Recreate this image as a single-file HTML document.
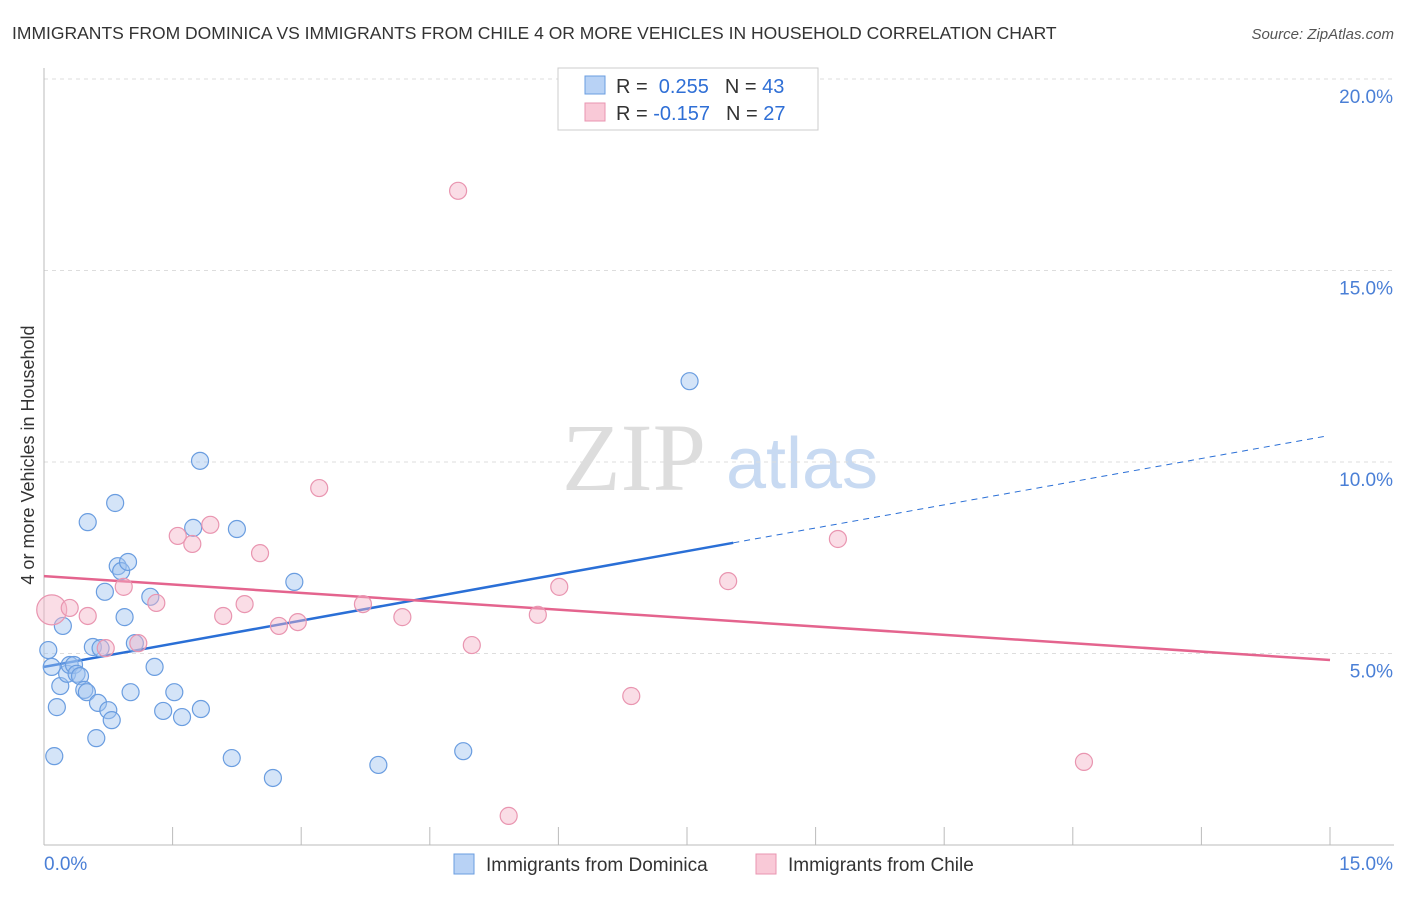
<!DOCTYPE html>
<html><head><meta charset="utf-8"><style>
body{margin:0;background:#fff;font-family:"Liberation Sans",sans-serif;}
svg text{font-family:"Liberation Sans",sans-serif;}
</style></head><body>
<svg id="chart" width="1406" height="892">
<text x="12" y="39" font-size="17.5" fill="#333">IMMIGRANTS FROM DOMINICA VS IMMIGRANTS FROM CHILE 4 OR MORE VEHICLES IN HOUSEHOLD CORRELATION CHART</text>
<text x="1394" y="39" font-size="15" fill="#555" font-style="italic" text-anchor="end">Source: ZipAtlas.com</text>
<g>
<text x="634" y="490" font-size="96" fill="#ddd" text-anchor="middle" font-family="Liberation Serif" style="font-family:'Liberation Serif',serif">ZIP</text>
<text x="802" y="488" font-size="72" fill="#c8daf2" text-anchor="middle">atlas</text>
</g>
<g id="grid"></g>
<g id="axes"></g>
<g id="lines"></g>
<g id="points"></g>
<text transform="translate(34,455) rotate(-90)" font-size="18" fill="#333" text-anchor="middle">4 or more Vehicles in Household</text>
<g>
<rect x="558" y="68" width="260" height="62" fill="#fff" stroke="#ccc"/>
<rect x="585" y="76" width="20" height="18" fill="#b8d2f5" stroke="#6a9de0"/>
<text x="616" y="93" font-size="20" fill="#333">R = <tspan fill="#2f6fd6">&#160;0.255</tspan><tspan dx="16">N = </tspan><tspan fill="#2f6fd6">43</tspan></text>
<rect x="585" y="103" width="20" height="18" fill="#f9c9d7" stroke="#e995b0"/>
<text x="616" y="120" font-size="20" fill="#333">R = <tspan fill="#2f6fd6">-0.157</tspan><tspan dx="16">N = </tspan><tspan fill="#2f6fd6">27</tspan></text>
</g>
<g>
<rect x="454" y="854" width="20" height="20" fill="#b8d2f5" stroke="#6a9de0"/>
<text x="486" y="871" font-size="19" fill="#333">Immigrants from Dominica</text>
<rect x="756" y="854" width="20" height="20" fill="#f9c9d7" stroke="#e995b0"/>
<text x="788" y="871" font-size="19" fill="#333">Immigrants from Chile</text>
</g>
</svg>
<script>
const xTicksPct=[0,15];
const yTicks=[5,10,15,20];
const blueX=[0.05,0.09,0.12,0.15,0.19,0.22,0.27,0.30,0.35,0.38,0.42,0.47,0.50,0.51,0.57,0.61,0.63,0.66,0.71,0.75,0.79,0.83,0.86,0.90,0.94,0.98,1.01,1.06,1.24,1.29,1.39,1.52,1.61,1.74,1.82,1.83,2.19,2.25,2.67,2.92,3.90,4.89,7.53];
const blueY=[5.09,4.65,2.32,3.60,4.15,5.72,4.47,4.70,4.70,4.47,4.41,4.05,3.99,8.43,5.17,2.79,3.71,5.14,6.61,3.52,3.26,8.93,7.28,7.15,5.95,7.39,3.99,5.27,6.48,4.65,3.50,3.99,3.34,8.28,10.03,3.55,2.27,8.25,1.75,6.87,2.09,2.45,12.11];
const pinkX=[0.09,0.30,0.51,0.72,0.93,1.10,1.31,1.56,1.73,1.94,2.09,2.34,2.52,2.74,2.96,3.21,3.72,4.18,4.83,4.99,5.42,5.76,6.01,6.85,7.98,9.26,12.13];
const pinkY=[6.14,6.19,5.98,5.14,6.74,5.27,6.32,8.07,7.86,8.36,5.98,6.29,7.62,5.72,5.82,9.32,6.29,5.95,17.08,5.22,0.76,6.01,6.74,3.89,6.89,7.99,2.17];
const blueTrend=[4.65,0.403];
const pinkTrend=[7.02,-0.146];
const NS='http://www.w3.org/2000/svg';
const X0=44,X1=1330,Y0=845,PXPER=191.5/5;
const sx=v=>X0+(v/15)*(X1-X0);
const sy=v=>Y0-v*PXPER;
function mk(tag,attrs,parent){const e=document.createElementNS(NS,tag);for(const k in attrs)e.setAttribute(k,attrs[k]);parent.appendChild(e);return e;}
const grid=document.getElementById('grid'),axes=document.getElementById('axes'),lines=document.getElementById('lines'),pts=document.getElementById('points');
yTicks.forEach(t=>{
 const l=mk('line',{x1:X0,x2:1394,y1:sy(t),y2:sy(t),stroke:'#ddd','stroke-dasharray':'4,4'},grid);
 
 
 const tx=mk('text',{x:1393,y:sy(t)+24,'font-size':19,fill:'#4a7fd6','text-anchor':'end'},grid);
 tx.textContent=t.toFixed(1)+'%';
 
 
});
mk('line',{x1:X0,x2:X0,y1:68,y2:Y0,stroke:'#bbb'},axes);
mk('line',{x1:X0,x2:1394,y1:Y0,y2:Y0,stroke:'#bbb'},axes);
for(let i=0;i<=10;i++){
 const x=sx(i*1.5);
 const t=mk('line',{x1:x,x2:x,y1:827,y2:Y0,stroke:'#bbb'},axes);
 
 
}
xTicksPct.forEach((v,i)=>{
 const tx=mk('text',{x:i?1393:44,y:870,'font-size':19,fill:'#4a7fd6','text-anchor':i?'end':'start'},axes);
 tx.textContent=v.toFixed(1)+'%';
 
 
});
function addPts(xs,ys,fill,stroke,name){
 xs.forEach((v,i)=>{
  const big=(name==='chile-point'&&i===0);
  const c=mk('circle',{cx:sx(v),cy:sy(ys[i]),r:big?15:8.5,fill:fill,stroke:stroke,'stroke-width':1.2},pts);
  
  
 });
}
addPts(blueX,blueY,'rgba(160,196,240,0.45)','#6a9de0','dominica-point');
addPts(pinkX,pinkY,'rgba(245,180,200,0.45)','#e995b0','chile-point');
const bxEnd=8.04,bxDash=14.94;
const b1=mk('line',{x1:sx(0),y1:sy(blueTrend[0]),x2:sx(bxEnd),y2:sy(blueTrend[0]+blueTrend[1]*bxEnd),stroke:'#2a6fd6','stroke-width':2.5},lines);


const b2=mk('line',{x1:sx(bxEnd),y1:sy(blueTrend[0]+blueTrend[1]*bxEnd),x2:sx(bxDash),y2:sy(blueTrend[0]+blueTrend[1]*bxDash),stroke:'#2a6fd6','stroke-width':1,'stroke-dasharray':'6,5'},lines);


const p1=mk('line',{x1:sx(0),y1:sy(pinkTrend[0]),x2:sx(15),y2:sy(pinkTrend[0]+pinkTrend[1]*15),stroke:'#e4648e','stroke-width':2.5},lines);


</script>
</body></html>
